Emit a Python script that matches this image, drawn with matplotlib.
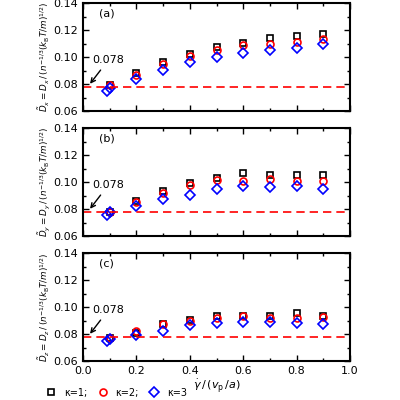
import matplotlib
matplotlib.use("Agg")
import matplotlib.pyplot as plt
from matplotlib.ticker import MultipleLocator

x = [0.1, 0.2, 0.3, 0.4, 0.5, 0.6, 0.7, 0.8, 0.9]
xd = [0.09, 0.1, 0.2, 0.3, 0.4, 0.5, 0.6, 0.7, 0.8, 0.9]
ref_value = 0.0775
panels = ["(a)", "(b)", "(c)"]
comps = ["x", "y", "z"]
k1 = [[0.079, 0.0879, 0.0964, 0.1019, 0.1074, 0.1102, 0.1138, 0.1155, 0.117],
      [0.078, 0.086, 0.093, 0.099, 0.103, 0.1065, 0.1055, 0.1055, 0.1053],
      [0.077, 0.081, 0.0875, 0.0905, 0.093, 0.093, 0.0935, 0.0955, 0.093]]
k2 = [[0.079, 0.087, 0.095, 0.1005, 0.1055, 0.109, 0.1095, 0.111, 0.1135],
      [0.078, 0.085, 0.092, 0.098, 0.1015, 0.1005, 0.102, 0.101, 0.1005],
      [0.077, 0.082, 0.0875, 0.090, 0.092, 0.0935, 0.0915, 0.092, 0.0925]]
k3 = [[0.075, 0.077, 0.0836, 0.0902, 0.0964, 0.1002, 0.1033, 0.1055, 0.1069, 0.1093],
      [0.0755, 0.0775, 0.0825, 0.0875, 0.0905, 0.095, 0.097, 0.0965, 0.097, 0.0948],
      [0.075, 0.076, 0.079, 0.082, 0.0865, 0.088, 0.089, 0.089, 0.0885, 0.0875]]

fig = plt.figure(figsize=(4, 4), dpi=100)
bottoms = [0.7225, 0.41, 0.0975]
for i in range(3):
    ax = fig.add_axes([0.2075, bottoms[i], 0.6675, 0.27])
    ax.plot(x, k1[i], 's', mfc='none', mec='black', ms=5, mew=1.2, label='κ=1;')
    ax.plot(x, k2[i], 'o', mfc='none', mec='red', ms=5, mew=1.2, label='κ=2;')
    ax.plot(xd, k3[i], 'D', mfc='none', mec='blue', ms=5, mew=1.2, label='κ=3')
    ax.axhline(ref_value, color='red', ls='--', lw=1.2, dashes=(5, 3))
    ax.set_xlim(0, 1)
    ax.set_ylim(0.06, 0.14)
    ax.xaxis.set_major_locator(MultipleLocator(0.2))
    ax.xaxis.set_minor_locator(MultipleLocator(0.1))
    ax.yaxis.set_major_locator(MultipleLocator(0.02))
    ax.yaxis.set_minor_locator(MultipleLocator(0.01))
    ax.tick_params(which='both', direction='in', top=True, right=True, labelsize=8)
    ax.tick_params(which='major', length=4, width=1)
    ax.tick_params(which='minor', length=2, width=1)
    for s in ax.spines.values():
        s.set_linewidth(1.5)
    ax.set_yticklabels(['%.2f' % v for v in ax.get_yticks()])
    ax.text(0.06, 0.132, panels[i], fontsize=8, va='center')
    c = comps[i]
    ax.set_ylabel(r'$\tilde{D}_%s = D_%s\,/\,(n^{-1/3}(k_{\rm B}T/m)^{1/2})$' % (c, c), fontsize=6.3, labelpad=1)
    ax.annotate('0.078', xy=(0.02, 0.0785), xytext=(0.035, 0.0955), fontsize=8,
                arrowprops=dict(arrowstyle='->', color='black', lw=1))
    if i < 2:
        ax.set_xticklabels([])
    else:
        ax.set_xticklabels(['%.1f' % v for v in ax.get_xticks()])
        ax.set_xlabel(r'$\dot{\gamma}\,/\,(v_{\rm p}\,/a)$', fontsize=8, labelpad=1)
        ax.legend(loc='upper left', bbox_to_anchor=(-0.17, -0.21), ncol=3, frameon=False,
                  fontsize=7, handletextpad=0.3, columnspacing=0.6, markerscale=1.0,
                  borderaxespad=0)
fig.savefig('out.png', dpi=100)
